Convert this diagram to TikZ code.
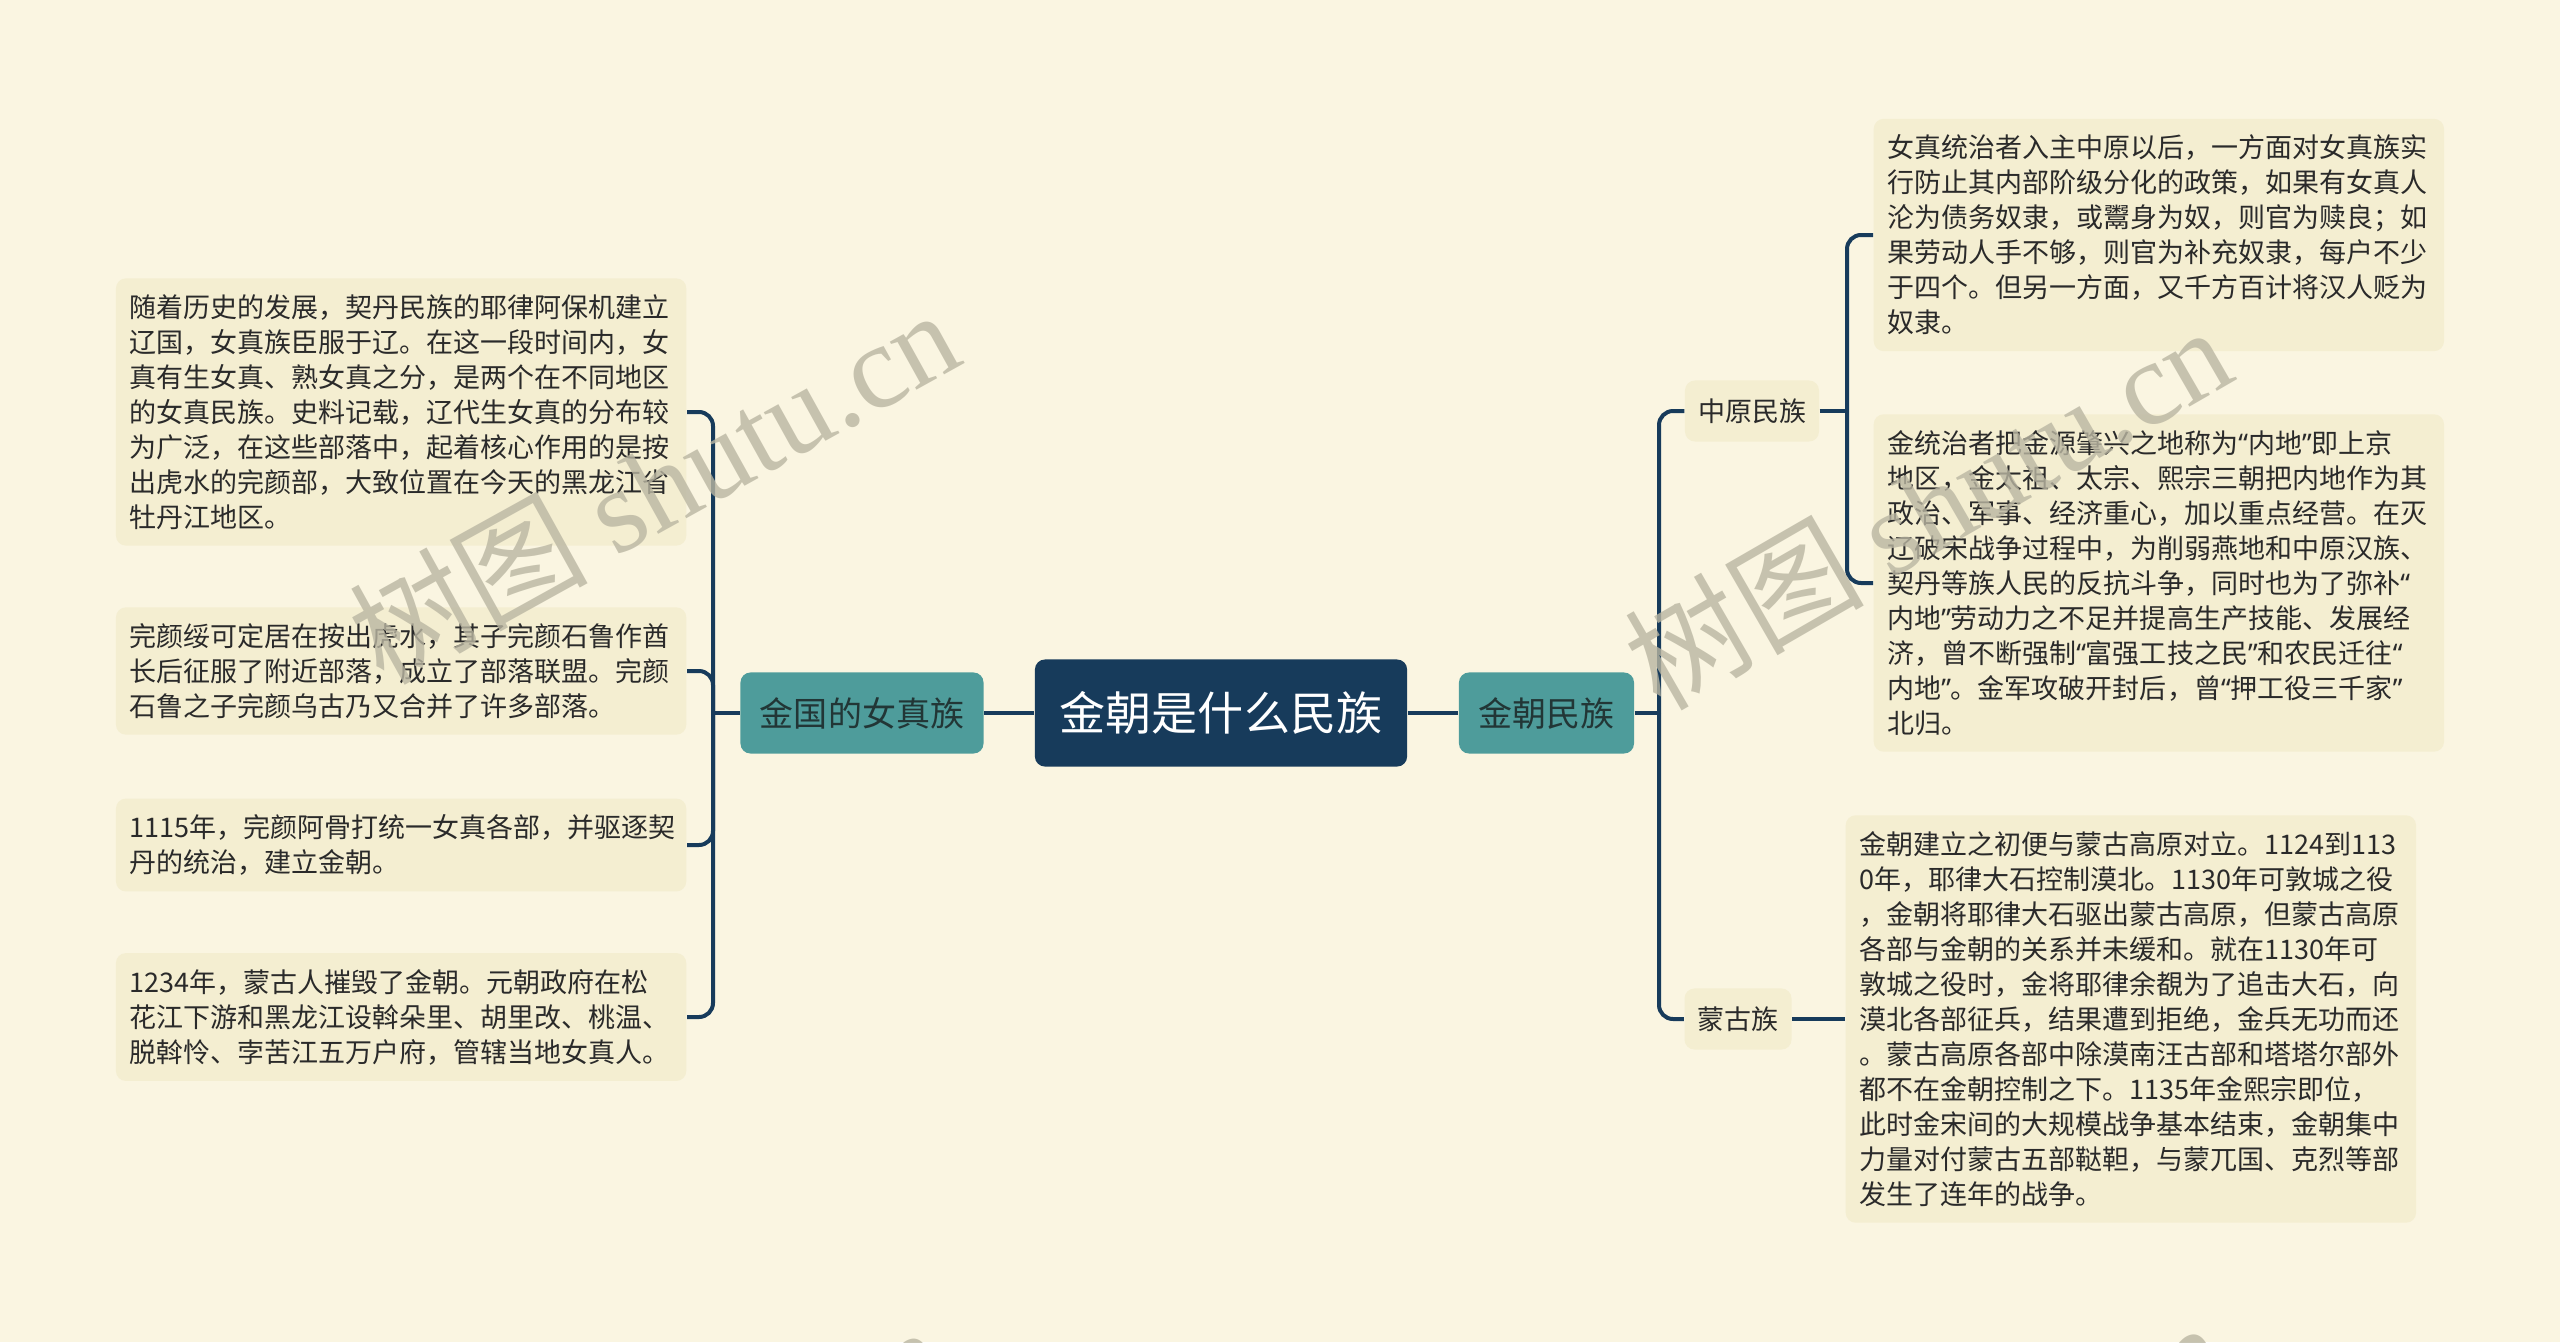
\documentclass[tikz,border=0pt]{standalone}
\usepackage{fontspec}
\newfontfamily\cjk{Noto Sans CJK SC}
\newfontfamily\qt{Noto Sans}
\newfontfamily\wmlatin{Liberation Serif}
% 窄引号
\newcommand\qo{{\qt “}}
\newcommand\qc{{\qt ”}}

\definecolor{bgcream}{HTML}{FAF5E1}
\definecolor{leafcream}{HTML}{F4EED1}
\definecolor{navy}{HTML}{173B5B}
\definecolor{topicteal}{HTML}{4E9C9B}
\definecolor{topictext}{HTML}{223636}
\definecolor{leaftext}{HTML}{2A2A2A}
\definecolor{wmgray}{HTML}{BAB6A2}

\tikzset{
  root/.style={fill=navy, text=white, rounded corners=1mm, minimum width=3.72cm, minimum height=1.07cm,
    font=\cjk\fontsize{13.1pt}{15pt}\selectfont},
  topic/.style={fill=topicteal, text=topictext, rounded corners=1mm, minimum height=0.81cm, inner xsep=1.95mm,
    font=\cjk\fontsize{9.67pt}{11pt}\selectfont},
  sub/.style={fill=leafcream, text=leaftext, rounded corners=1mm, minimum height=0.61cm, inner xsep=1.3mm,
    font=\cjk\fontsize{7.68pt}{9.96pt}\selectfont},
  leaf/.style={fill=leafcream, text=leaftext, rounded corners=1mm, text width=5.43cm, align=left,
    inner xsep=1.35mm, inner ysep=1.6mm, font=\cjk\fontsize{7.68pt}{9.96pt}\selectfont},
  link/.style={draw=navy, line width=0.4mm},
  elbow/.style={link, rounded corners=1.4mm},
  wmark/.style={text=wmgray, text opacity=0.8, font=\fontsize{34pt}{34pt}\selectfont},
}

\begin{document}
\begin{tikzpicture}[x=0.01cm, y=-0.01cm]
  % 底色
  \clip (0,0) rectangle (2560,1342);
  \path[fill=bgcream] (0,0) rectangle (2560,1342);

  % 中心主题
  \node[root] (root) at (1221,713) {金朝是什么民族};
  \node[topic] (jg) at (862,713) {金国的女真族};
  \node[topic] (jm) at (1546.5,713) {金朝民族};
  \node[sub] (zy) at (1752,411) {中原民族};
  \node[sub] (mg) at (1738,1019) {蒙古族};

  % 左侧
  \node[leaf, anchor=east] (l1) at (687,412) {随着历史的发展，契丹民族的耶律阿保机建立\\
    辽国，女真族臣服于辽。在这一段时间内，女\\
    真有生女真、熟女真之分，是两个在不同地区\\
    的女真民族。史料记载，辽代生女真的分布较\\
    为广泛，在这些部落中，起着核心作用的是按\\
    出虎水的完颜部，大致位置在今天的黑龙江省\\
    牡丹江地区。};
  \node[leaf, anchor=east] (l2) at (687,671) {完颜绥可定居在按出虎水，其子完颜石鲁作酋\\
    长后征服了附近部落，成立了部落联盟。完颜\\
    石鲁之子完颜乌古乃又合并了许多部落。};
  \node[leaf, anchor=east] (l3) at (687,845) {1115年，完颜阿骨打统一女真各部，并驱逐契\\
    丹的统治，建立金朝。};
  \node[leaf, anchor=east] (l4) at (687,1017) {1234年，蒙古人摧毁了金朝。元朝政府在松\\
    花江下游和黑龙江设斡朵里、胡里改、桃温、\\
    脱斡怜、孛苦江五万户府，管辖当地女真人。};

  % 右侧
  \node[leaf, anchor=west] (ra) at (1873,235) {女真统治者入主中原以后，一方面对女真族实\\
    行防止其内部阶级分化的政策，如果有女真人\\
    沦为债务奴隶，或鬻身为奴，则官为赎良；如\\
    果劳动人手不够，则官为补充奴隶，每户不少\\
    于四个。但另一方面，又千方百计将汉人贬为\\
    奴隶。};
  \node[leaf, anchor=west] (rb) at (1873,583) {金统治者把金源肇兴之地称为\qo 内地\qc 即上京\\
    地区，金太祖、太宗、熙宗三朝把内地作为其\\
    政治、军事、经济重心，加以重点经营。在灭\\
    辽破宋战争过程中，为削弱燕地和中原汉族、\\
    契丹等族人民的反抗斗争，同时也为了弥补\qo\\
    内地\qc 劳动力之不足并提高生产技能、发展经\\
    济，曾不断强制\qo 富强工技之民\qc 和农民迁往\qo\\
    内地\qc 。金军攻破开封后，曾\qo 押工役三千家\qc\\
    北归。};
  \node[leaf, anchor=west] (rc) at (1845,1019) {金朝建立之初便与蒙古高原对立。1124到113\\
    0年，耶律大石控制漠北。1130年可敦城之役\\
    ，金朝将耶律大石驱出蒙古高原，但蒙古高原\\
    各部与金朝的关系并未缓和。就在1130年可\\
    敦城之役时，金将耶律余覩为了追击大石，向\\
    漠北各部征兵，结果遭到拒绝，金兵无功而还\\
    。蒙古高原各部中除漠南汪古部和塔塔尔部外\\
    都不在金朝控制之下。1135年金熙宗即位，\\
    此时金宋间的大规模战争基本结束，金朝集中\\
    力量对付蒙古五部鞑靼，与蒙兀国、克烈等部\\
    发生了连年的战争。};

  % 连线
  \coordinate (jgj) at (713,713);
  \coordinate (jmj) at (1659,713);
  \coordinate (zyj) at (1847,411);
  \draw[link] (root.west) -- (jg.east);
  \draw[link] (root.east) -- (jm.west);
  \draw[link] (jg.west) -- (jgj);
  \foreach \n in {l1,l2,l3,l4}
    \draw[elbow] (jgj) |- (\n.east);
  \draw[link] (jm.east) -- (jmj);
  \draw[elbow] (jmj) |- (zy.west);
  \draw[elbow] (jmj) |- (mg.west);
  \draw[link] (zy.east) -- (zyj);
  \draw[elbow] (zyj) |- (ra.west);
  \draw[elbow] (zyj) |- (rb.west);
  \draw[link] (mg.east) -- (rc.west);

  % 水印
  \node[wmark, rotate=29] (wm1) at (653,485) {\cjk 树图 \wmlatin shutu.cn};
  \node[wmark, rotate=30] (wm2) at (1927,506) {\cjk 树图 \wmlatin shutu.cn};
  \node[wmark, rotate=29] (wm3) at (640,1502) {\cjk 树图 \wmlatin shutu.cn};
  \node[wmark, rotate=30] (wm4) at (1922,1502) {\cjk 树图 \wmlatin shutu.cn};
\end{tikzpicture}
\end{document}
